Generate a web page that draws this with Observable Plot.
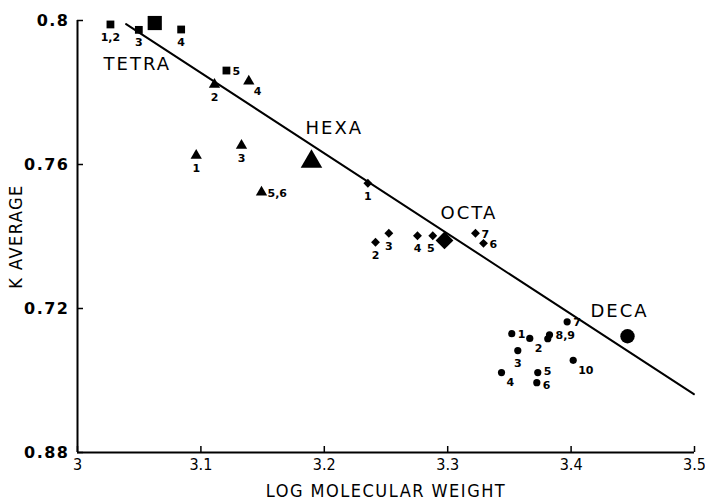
<!DOCTYPE html>
<html>
<head>
<meta charset="utf-8">
<script src="https://cdn.jsdelivr.net/npm/d3@7"></script>
<script src="https://cdn.jsdelivr.net/npm/@observablehq/plot@0.6"></script>
<style>
  html, body { margin: 0; padding: 0; background: #fff; }
  #chart { width: 705px; height: 500px; }
</style>
</head>
<body>
<div id="chart"></div>
<script>
// ---- data ----
const tetraX = [3.0267, 3.0497, 3.0840, 3.1207];
const tetraY = [0.7989, 0.7974, 0.7975, 0.7861];
const tetraLbl = ["1,2", "3", "4", "5"];
const tetraPos = ["b", "b", "b", "r"];

const hexaX = [3.0962, 3.1110, 3.1329, 3.1388, 3.1491];
const hexaY = [0.7625, 0.7822, 0.7653, 0.7831, 0.7523];
const hexaLbl = ["1", "2", "3", "4", "5,6"];
const hexaPos = ["b", "b", "b", "br", "r"];

const octaX = [3.2353, 3.2415, 3.2523, 3.2755, 3.2879, 3.3290, 3.3225];
const octaY = [0.7548, 0.7384, 0.7409, 0.7402, 0.7402, 0.7381, 0.7409];
const octaLbl = ["1", "2", "3", "4", "5", "6", "7"];
const octaPos = ["b", "b", "b", "b", "bl", "r", "r"];

const decaX = [3.3519, 3.3665, 3.3568, 3.3436, 3.3730, 3.3722, 3.3968, 3.3811, 3.3825, 3.4017];
const decaY = [0.7130, 0.7117, 0.7083, 0.7022, 0.7022, 0.6994, 0.7163, 0.7116, 0.7127, 0.7056];
const decaLbl = ["1", "2", "3", "4", "5", "6", "7", "", "8,9", "10"];
const decaPos = ["r", "br", "b", "br", "ru", "rd", "r", "r", "r", "br"];

const groupNames = ["TETRA", "HEXA", "OCTA", "DECA"];
const groupSymbols = ["square", "triangle", "diamond2", "circle"];
const avgX = [3.0626, 3.1896, 3.2974, 3.4457];
const avgY = [0.7993, 0.7608, 0.7389, 0.7123];
const groupLabelX = [3.0211, 3.1848, 3.2942, 3.4157];
const groupLabelY = [0.7879, 0.7701, 0.7464, 0.7192];

const lineX = [3.0394, 3.4995];
const lineY = [0.7990, 0.6962];

const xTicks = [3, 3.1, 3.2, 3.3, 3.4, 3.5];
const xTickLabels = ["3", "3.1", "3.2", "3.3", "3.4", "3.5"];
const yTicks = [0.68, 0.72, 0.76, 0.80];
const yTickLabels = ["0.88", "0.72", "0.76", "0.8"];

// ---- build tables ----
function build(xs, ys, lbls, pos, sym) {
  return xs.map((x, i) => ({x, y: ys[i], label: lbls[i], pos: pos[i], symbol: sym}));
}
const pts = [
  ...build(tetraX, tetraY, tetraLbl, tetraPos, "square"),
  ...build(hexaX, hexaY, hexaLbl, hexaPos, "triangle"),
  ...build(octaX, octaY, octaLbl, octaPos, "diamond2"),
  ...build(decaX, decaY, decaLbl, decaPos, "circle")
];
const avgs = avgX.map((x, i) => ({x, y: avgY[i], symbol: groupSymbols[i], name: groupNames[i]}));
const groupLabels = groupLabelX.map((x, i) => ({x, y: groupLabelY[i], name: groupNames[i]}));
const line = lineX.map((x, i) => ({x, y: lineY[i]}));

const smallR = {square: 4.4, triangle: 4.2, diamond2: 4.0, circle: 3.6};
const bigR = {square: 8, triangle: 8, diamond2: 8, circle: 7.2};

const font = "'DejaVu Sans', sans-serif";
const condensed = "'DejaVu Sans Condensed', 'DejaVu Sans', sans-serif";

const labelGroups = {
  b:  {dx: 0,  dy: 13, textAnchor: "middle"},
  bl: {dx: -2, dy: 13, textAnchor: "middle"},
  br: {dx: 5,  dy: 10, textAnchor: "start"},
  r:  {dx: 6,  dy: 1,  textAnchor: "start"},
  ru: {dx: 6,  dy: -1, textAnchor: "start"},
  rd: {dx: 6,  dy: 3,  textAnchor: "start"}
};

const labelMarks = Object.entries(labelGroups).map(([k, o]) =>
  Plot.text(pts.filter(d => d.pos === k && d.label), {
    x: "x", y: "y", text: "label", dx: o.dx, dy: o.dy, textAnchor: o.textAnchor,
    fontSize: 11, fontWeight: "bold", fontFamily: font, fill: "black"
  })
);

const chart = Plot.plot({
  width: 705,
  height: 500,
  marginLeft: 77,
  marginRight: 11,
  marginTop: 20,
  marginBottom: 48,
  style: {background: "white", color: "black"},
  x: {domain: [3, 3.5]},
  y: {domain: [0.68, 0.80]},
  marks: [
    Plot.axisX({
      ticks: xTicks, tickSize: -6, tickPadding: 12,
      tickFormat: d => xTickLabels[xTicks.findIndex(t => Math.abs(t - d) < 1e-9)],
      fontSize: 16, fontFamily: condensed, strokeWidth: 1.5,
      label: "LOG MOLECULAR WEIGHT", labelAnchor: "center", labelOffset: 44,
      labelArrow: "none"
    }),
    Plot.axisY({
      ticks: yTicks, tickSize: -6, tickPadding: 14,
      tickFormat: d => yTickLabels[yTicks.findIndex(t => Math.abs(t - d) < 1e-9)],
      fontSize: 16, fontWeight: "bold", fontFamily: font, strokeWidth: 1.5,
      label: "K AVERAGE", labelAnchor: "center", labelOffset: 68,
      labelArrow: "none"
    }),
    Plot.ruleX([3], {stroke: "black", strokeWidth: 2}),
    Plot.ruleY([0.68], {stroke: "black", strokeWidth: 2}),
    Plot.line(line, {x: "x", y: "y", stroke: "black", strokeWidth: 2}),
    ...groupSymbols.map(s => Plot.dot(pts.filter(d => d.symbol === s), {
      x: "x", y: "y", symbol: s, r: smallR[s], fill: "black", stroke: "none"
    })),
    ...groupSymbols.map(s => Plot.dot(avgs.filter(d => d.symbol === s), {
      x: "x", y: "y", symbol: s, r: bigR[s], fill: "black", stroke: "none"
    })),
    ...labelMarks,
    Plot.text(groupLabels, {
      x: "x", y: "y", text: "name", textAnchor: "start",
      fontSize: 18, fontFamily: font, fill: "black"
    })
  ]
});

// styling tweaks for text
chart.querySelectorAll("text").forEach(t => {
  const s = t.textContent;
  if (s === "LOG MOLECULAR WEIGHT" || s === "K AVERAGE") {
    t.setAttribute("font-size", "18");
    t.setAttribute("font-family", condensed);
    t.setAttribute("font-weight", "normal");
    t.setAttribute("letter-spacing", "1.5");
  } else if (groupNames.includes(s)) {
    t.setAttribute("letter-spacing", "2");
  } else if (yTickLabels.includes(s)) {
    t.setAttribute("letter-spacing", "1.5");
  }
});
document.getElementById("chart").append(chart);
</script>
</body>
</html>
